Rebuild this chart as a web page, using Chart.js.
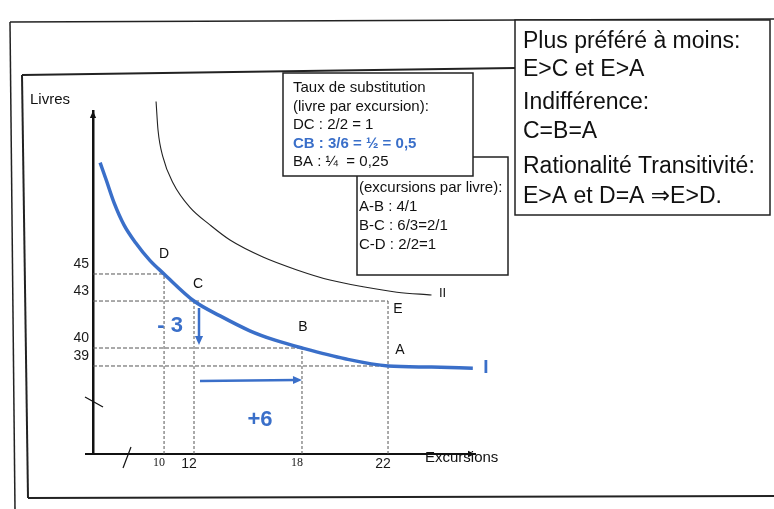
<!DOCTYPE html>
<html>
<head>
<meta charset="utf-8">
<script src="https://cdn.jsdelivr.net/npm/chart.js@4.4.0/dist/chart.umd.min.js"></script>
<style>
  html, body { margin: 0; padding: 0; background: #fff; }
  #wrap { width: 774px; height: 509px; }
</style>
</head>
<body>
<div id="wrap"><canvas id="chartIndiff" width="774" height="509"></canvas></div>
<script>
// indifference diagram: livres vs excursions

// named points (D, C, B, A on curve I, E above it)
var pointNames = ['D', 'C', 'B', 'A', 'E'];
var pointExcursions = [10, 12, 18, 22, 22];
var pointLivres = [45, 43, 40, 39, 43];

// tick labels
var xTicks = [10, 12, 18, 22];
var yTicks = [39, 40, 43, 45];

// indifference curve I (blue)
var curve1Excursions = [6.4, 6.75, 7.2, 7.75, 8.4, 9.2, 10, 12, 13.45, 15.1, 16.5, 18, 20, 22, 24, 25.9];
var curve1Livres = [53.2, 51.9, 50.2, 48.6, 47.3, 46.0, 45, 43, 42.05, 41.1, 40.5, 40, 39.4, 39, 38.95, 38.9];

// indifference curve II (higher)
var curve2Excursions = [9.55, 9.66, 9.94, 10.6, 11.73, 12.9, 14, 15.83, 17.72, 19.3, 20.84, 22.41, 24.0];
var curve2Livres = [57.7, 55.6, 53.6, 51.7, 49.9, 48.6, 47.5, 46.25, 45.3, 44.55, 44.05, 43.65, 43.45];

// changes from C to B
var deltaLivres = '- 3';
var deltaExcursions = '+6';

// text boxes
var boxTaux = ['Taux de substitution', '(livre par excursion):', 'DC : 2/2 = 1', 'CB : 3/6 = \u00bd = 0,5', 'BA : \u00bc  = 0,25'];
var boxExcursions = ['(excursions par livre):', 'A-B : 4/1', 'B-C : 6/3=2/1', 'C-D : 2/2=1'];
var boxRight = ['Plus pr\u00e9f\u00e9r\u00e9 \u00e0 moins:', 'E>C et E>A', 'Indiff\u00e9rence:', 'C=B=A', 'Rationalit\u00e9 Transitivit\u00e9:', 'E>A et D=A \u21d2E>D.'];

var blue = '#3a6fc9';
var font = "'Liberation Sans', Arial, 'DejaVu Sans', sans-serif";
var xMin = 6, xMax = 26, yMin = 35, yMax = 57;

// the slide is drawn schematically: axis values are spaced by hand, not evenly
var axisKnots = {
  x: [[6, 0], [10, 0.186], [12, 0.2644], [18, 0.5471], [22, 0.7723], [26, 1]],
  y: [[35, 0], [39, 0.2566], [40, 0.309], [43, 0.446], [45, 0.5248], [57, 1]]
};

function knotDecimal(knots, v) {
  var i = 1;
  while (i < knots.length - 1 && v > knots[i][0]) i++;
  var a = knots[i - 1], b = knots[i];
  return a[1] + (v - a[0]) * (b[1] - a[1]) / (b[0] - a[0]);
}
function knotValue(knots, d) {
  var i = 1;
  while (i < knots.length - 1 && d > knots[i][1]) i++;
  var a = knots[i - 1], b = knots[i];
  return a[0] + (d - a[1]) * (b[0] - a[0]) / (b[1] - a[1]);
}

class KnotScale extends Chart.LinearScale {
  getPixelForValue(value) {
    if (value === null || value === undefined) return NaN;
    return this.getPixelForDecimal(knotDecimal(axisKnots[this.id], value));
  }
  getValueForPixel(pixel) {
    return knotValue(axisKnots[this.id], this.getDecimalForPixel(pixel));
  }
}
KnotScale.id = 'knot';
Chart.register(KnotScale);

function toPoints(xs, ys) {
  return xs.map(function(x, i) { return {x: x, y: ys[i]}; });
}

// drop lines from the named points to the axes
var hLines = {}, vLines = {};
pointLivres.forEach(function(y, i) {
  var x = pointExcursions[i];
  if (!(y in hLines) || x > hLines[y]) hLines[y] = x;
  if (!(x in vLines) || y > vLines[x]) vLines[x] = y;
});

var datasets = [
  {
    data: toPoints(curve1Excursions, curve1Livres),
    borderColor: blue, borderWidth: 3.5,
    cubicInterpolationMode: 'monotone', pointRadius: 0, clip: false
  },
  {
    data: toPoints(curve2Excursions, curve2Livres),
    borderColor: '#222', borderWidth: 1.1,
    cubicInterpolationMode: 'monotone', pointRadius: 0, clip: false
  }
];
Object.keys(hLines).forEach(function(y) {
  datasets.push({
    data: [{x: xMin, y: +y}, {x: hLines[y], y: +y}],
    borderColor: '#555', borderWidth: 1, borderDash: [4, 2], pointRadius: 0
  });
});
Object.keys(vLines).forEach(function(x) {
  datasets.push({
    data: [{x: +x, y: yMin}, {x: +x, y: vLines[x]}],
    borderColor: '#555', borderWidth: 1, borderDash: [3, 2], pointRadius: 0
  });
});

function line(ctx, x1, y1, x2, y2) {
  ctx.beginPath();
  ctx.moveTo(x1, y1);
  ctx.lineTo(x2, y2);
  ctx.stroke();
}
function arrow(ctx, x1, y1, x2, y2, head) {
  var ang = Math.atan2(y2 - y1, x2 - x1);
  line(ctx, x1, y1, x2 - Math.cos(ang) * head * 0.6, y2 - Math.sin(ang) * head * 0.6);
  ctx.beginPath();
  ctx.moveTo(x2, y2);
  ctx.lineTo(x2 - head * Math.cos(ang) + head * 0.45 * Math.sin(ang), y2 - head * Math.sin(ang) - head * 0.45 * Math.cos(ang));
  ctx.lineTo(x2 - head * Math.cos(ang) - head * 0.45 * Math.sin(ang), y2 - head * Math.sin(ang) + head * 0.45 * Math.cos(ang));
  ctx.closePath();
  ctx.fill();
}
function textBox(ctx, x1, y1, x2, y2) {
  ctx.fillStyle = '#fff';
  ctx.fillRect(x1, y1, x2 - x1, y2 - y1);
  ctx.strokeRect(x1, y1, x2 - x1, y2 - y1);
}

var diagramPlugin = {
  id: 'diagram',
  beforeDraw: function(chart) {
    var ctx = chart.ctx;
    ctx.save();
    ctx.fillStyle = '#fff';
    ctx.fillRect(0, 0, chart.width, chart.height);
    // frames of the scanned slide
    ctx.strokeStyle = '#222';
    ctx.lineWidth = 1.5;
    line(ctx, 10, 22, 774, 19);
    line(ctx, 10, 22, 15, 509);
    ctx.lineWidth = 2;
    line(ctx, 22, 75, 515, 68);
    line(ctx, 22, 75, 28, 498);
    line(ctx, 28, 498, 774, 496);
    ctx.restore();
  },
  afterDatasetsDraw: function(chart) {
    var ctx = chart.ctx, sx = chart.scales.x, sy = chart.scales.y, area = chart.chartArea;
    var px = function(v) { return sx.getPixelForValue(v); };
    var py = function(v) { return sy.getPixelForValue(v); };
    ctx.save();

    // axis arrows, extension and break marks
    ctx.strokeStyle = '#111';
    ctx.fillStyle = '#111';
    ctx.lineWidth = 2;
    line(ctx, area.left - 8, area.bottom, area.left, area.bottom);
    ctx.lineWidth = 1.2;
    arrow(ctx, area.left, area.top + 10, area.left, area.top, 7);
    arrow(ctx, area.right - 10, area.bottom, area.right, area.bottom, 7);
    line(ctx, area.left - 8, 397, area.left + 10, 407);
    line(ctx, area.left + 30, area.bottom + 14, area.left + 38, area.bottom - 7);

    // axis titles
    ctx.font = '15px ' + font;
    ctx.textBaseline = 'middle';
    ctx.textAlign = 'left';
    ctx.fillText('Livres', 30, 100);
    ctx.fillText('Excursions', 425, 458);

    // point labels
    var labelShift = {D: [0, -20], C: [4, -17], B: [1, -21], E: [10, 8], A: [12, -16]};
    ctx.font = '14px ' + font;
    ctx.textAlign = 'center';
    pointNames.forEach(function(n, i) {
      ctx.fillText(n, px(pointExcursions[i]) + labelShift[n][0], py(pointLivres[i]) + labelShift[n][1]);
    });

    // curve labels
    var e1 = curve1Excursions.length - 1, e2 = curve2Excursions.length - 1;
    ctx.font = '13px ' + font;
    ctx.fillText('II', px(curve2Excursions[e2]) + 11, py(curve2Livres[e2]) - 2);
    ctx.fillStyle = blue;
    ctx.font = 'bold 19px ' + font;
    ctx.fillText('I', px(curve1Excursions[e1]) + 13, py(curve1Livres[e1]));

    // movement C -> B
    ctx.strokeStyle = blue;
    ctx.lineWidth = 2.5;
    arrow(ctx, px(12) + 5, py(43) + 7, px(12) + 5, py(40) - 3, 9);
    arrow(ctx, px(12) + 6, py(39) + 15, px(18), py(39) + 14, 9);
    ctx.font = 'bold 22px ' + font;
    ctx.fillText(deltaLivres, px(10) + 6, py(43) + 25);
    ctx.fillText(deltaExcursions, (px(12) + px(18)) / 2 + 12, py(39) + 54);
    ctx.restore();
  },
  afterDraw: function(chart) {
    var ctx = chart.ctx;
    ctx.save();
    ctx.strokeStyle = '#222';
    ctx.lineWidth = 1.5;
    ctx.textBaseline = 'middle';
    ctx.textAlign = 'left';

    // excursions per livre box (behind the first one)
    textBox(ctx, 357, 157, 508, 275);
    ctx.fillStyle = '#111';
    ctx.font = '15px ' + font;
    boxExcursions.forEach(function(t, i) {
      ctx.fillText(t, 359, 188 + i * 19);
    });

    // taux de substitution box
    textBox(ctx, 283, 73, 473, 176);
    boxTaux.forEach(function(t, i) {
      ctx.fillStyle = i === 3 ? blue : '#111';
      ctx.font = (i === 3 ? 'bold ' : '') + '15px ' + font;
      ctx.fillText(t, 293, 88 + i * 18.5);
    });

    // right box
    textBox(ctx, 515, 20, 770, 215);
    ctx.fillStyle = '#111';
    ctx.font = '23px ' + font;
    var rightY = [42, 70, 103, 132, 167, 197];
    boxRight.forEach(function(t, i) {
      ctx.fillText(t, 523, rightY[i]);
    });
    ctx.restore();
  }
};

function tickFont(ctx) {
  var v = ctx.tick ? ctx.tick.value : 0;
  if (v === 10 || v === 18) return {family: "'Liberation Serif', 'Times New Roman', serif", size: 12};
  return {family: font, size: 14};
}

var ctxChart = document.getElementById('chartIndiff');
new Chart(ctxChart, {
  type: 'line',
  data: { datasets: datasets },
  options: {
    responsive: false,
    animation: false,
    events: [],
    parsing: true,
    layout: { padding: { left: 0, top: 111, right: 299, bottom: 0 } },
    plugins: { legend: { display: false }, tooltip: { enabled: false } },
    scales: {
      x: {
        type: 'knot', min: xMin, max: xMax,
        grid: { display: false, drawTicks: false },
        border: { display: true, color: '#111', width: 2 },
        afterBuildTicks: function(axis) { axis.ticks = xTicks.map(function(v) { return {value: v}; }); },
        afterFit: function(axis) { axis.height = 55; },
        ticks: { autoSkip: false, maxRotation: 0, padding: 2, labelOffset: -5, color: '#1a1a1a', font: tickFont }
      },
      y: {
        type: 'knot', min: yMin, max: yMax,
        grid: { display: false, drawTicks: false },
        border: { display: true, color: '#111', width: 2.5 },
        afterBuildTicks: function(axis) { axis.ticks = yTicks.map(function(v) { return {value: v}; }); },
        afterFit: function(axis) { axis.width = 93; },
        ticks: { autoSkip: false, padding: 4, labelOffset: -10, color: '#1a1a1a', font: { family: font, size: 14 } }
      }
    }
  },
  plugins: [diagramPlugin]
});
</script>
</body>
</html>
